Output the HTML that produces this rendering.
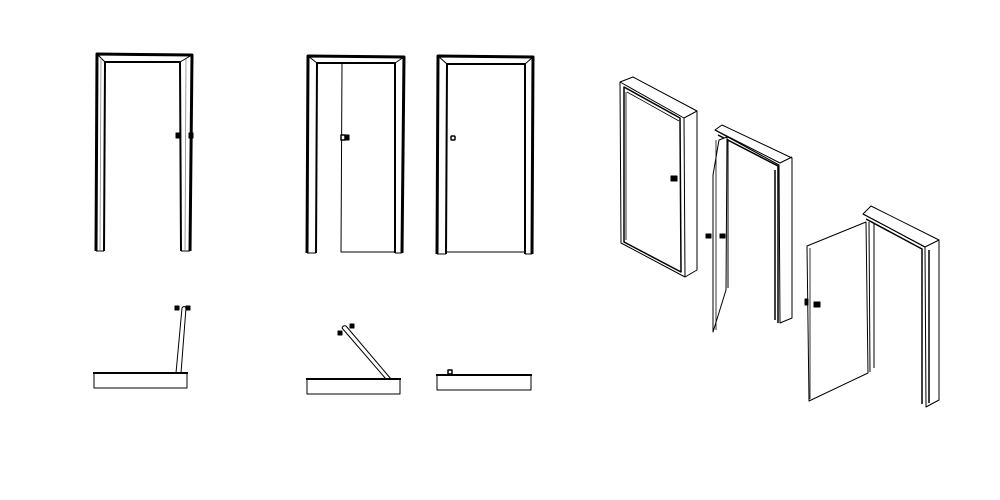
<!DOCTYPE html>
<html><head><meta charset="utf-8"><style>html,body{margin:0;padding:0;background:#fff}svg{display:block}</style></head>
<body>
<svg width="1000" height="500" viewBox="0 0 1000 500" xmlns="http://www.w3.org/2000/svg" fill="none" stroke="#000" stroke-linejoin="round">
<!-- Door 1 elevation -->
<path d="M96,251 L97,54 L192,55 L190,251" stroke-width="3"/>
<path d="M104,251 L105,62 L180,62 L181,251" stroke-width="2"/>
<path d="M96,251 H104 M181,251 H190 M97,54 L105,62 M192,55 L180,62" stroke-width="1"/>
<path d="M100,250 L101,58 M185,250 L186,59" stroke-width="0.8" stroke="#888"/>
<rect x="176" y="133" width="4" height="5" fill="#000"/><rect x="189" y="133" width="4" height="5" fill="#000"/>
<!-- Door 2 elevation -->
<path d="M307,253 L308,56 L404,57 L402,253" stroke-width="3"/>
<path d="M316,253 L317,63 L395,63 L395,253" stroke-width="2"/>
<path d="M307,253 H316 M395,253 H402 M308,56 L317,63 M404,57 L395,63" stroke-width="1"/>
<path d="M342,63 L341,252 L395,252" stroke-width="1"/>
<rect x="341" y="135" width="4" height="5" fill="#fff" stroke-width="1.5"/><rect x="345" y="135" width="4" height="5" fill="#000"/>
<!-- Door 3 elevation -->
<path d="M437,254 L438,56 L533,57 L532,254" stroke-width="3"/>
<path d="M446,254 L447,64 L525,64 L525,254" stroke-width="2"/>
<path d="M437,254 H446 M525,254 H532 M438,56 L447,64 M533,57 L525,64 M446,252 H525" stroke-width="1"/>
<rect x="451" y="136" width="4" height="4" rx="1" stroke-width="1.5"/>
<!-- Plan 1 -->
<rect x="94" y="373" width="93" height="15" stroke-width="1"/>
<line x1="93" y1="373" x2="188" y2="373" stroke-width="2"/>
<path d="M176,373 L182,308 Q184,305 186,308 L181,373" stroke-width="1"/>
<rect x="175" y="306" width="4" height="4" fill="#000"/><rect x="186" y="306" width="4" height="4" fill="#000"/>
<!-- Plan 2 -->
<rect x="307" y="379" width="93" height="15" stroke-width="1"/>
<line x1="306" y1="379" x2="401" y2="379" stroke-width="2"/>
<path d="M386,379 L342,328 Q343,325 346,326 L391,379" stroke-width="1"/>
<rect x="338" y="331" width="4" height="4" fill="#000"/><rect x="350" y="324" width="4" height="4" fill="#000"/>
<!-- Plan 3 -->
<rect x="437" y="375" width="94" height="15" stroke-width="1"/>
<line x1="436" y1="375" x2="532" y2="375" stroke-width="2"/>
<rect x="448" y="370" width="4" height="4" stroke-width="1.5"/>
<!-- Iso door A -->
<path d="M620,82 L633,77 L697,111 L697,270 L685,277 L621,243 Z" stroke-width="1"/>
<path d="M620,82 L684,118 L685,277 M684,118 L697,111" stroke-width="1"/>
<path d="M624,87 L680,118 L681,272 L624,242 Z" stroke-width="1.5"/>
<path d="M627,92 L679,121 M626,92 L626,240" stroke-width="0.8"/>
<rect x="671" y="176" width="6" height="5" fill="#000"/>
<!-- Iso door B -->
<path d="M715,130 L722,125 L792,158 L792,318 L780,323 L779,165 Z" stroke-width="1"/>
<path d="M715,130 L780,163 M780,163 L792,157" stroke-width="1"/>
<path d="M718,135 L778,166 L778,323 M775,170 L775,320" stroke-width="1.5"/>
<path d="M728,139 L728,288" stroke-width="1"/>
<path d="M719,140 L727,137 L726,290 L713,332 L713,175 Z" fill="#fff" stroke-width="1"/>
<path d="M716,140 L716,330" stroke-width="0.8"/>
<rect x="706" y="234" width="5" height="4" fill="#000"/><rect x="720" y="234" width="5" height="4" fill="#000"/>
<!-- Iso door C -->
<path d="M863,214 L871,206 L939,240 L939,400 L926,407 L925,247 Z" stroke-width="1"/>
<path d="M863,214 L925,247 M925,247 L939,240" stroke-width="1"/>
<path d="M866,219 L922,249 L922,404 M929,250 L929,403" stroke-width="1.5"/>
<path d="M869,222 L870,372 M874,223 L874,368" stroke-width="1"/>
<path d="M807,246 L866,222 L868,373 L809,401 Z" fill="#fff" stroke-width="1"/>
<path d="M810,248 L810,399" stroke-width="0.8"/>
<rect x="814" y="302" width="6" height="5" fill="#000"/><rect x="805" y="299" width="3" height="6" fill="#000"/>
</svg>
</body></html>
